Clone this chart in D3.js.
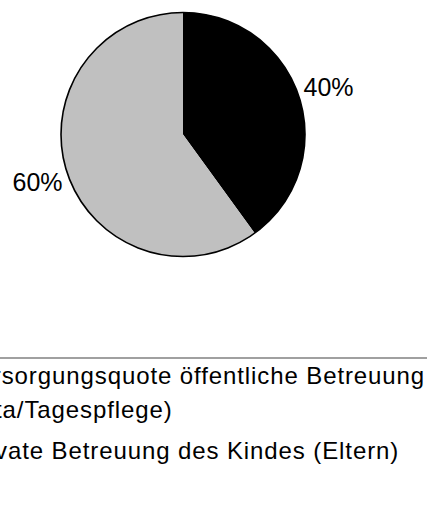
<!DOCTYPE html>
<html>
<head>
<meta charset="utf-8">
<script src="https://cdn.jsdelivr.net/npm/d3@7"></script>
<style>
  html, body { margin: 0; padding: 0; background: #fff; }
  svg { display: block; }
</style>
</head>
<body>
<svg id="pie-chart" width="427" height="505"></svg>
<script>
// data
const categories = ["Versorgung", "Privat"];
const values = [40, 60];
const valueLabels = ["40%", "60%"];
const legendLines = [
    ["Versorgungsquote öffentliche Betreuung", "(Kita/Tagespflege)"],
    ["Private Betreuung des Kindes (Eltern)"]
];

const width = 427, height = 505;
const cx = 183, cy = 134.5, radius = 122;
const fontFamily = "'Liberation Sans', Arial, Helvetica, sans-serif";

var svg = d3.select("#pie-chart");

var color = d3.scaleOrdinal()
    .domain(categories)
    .range(["#000000", "#c0c0c0"]);

var pie = d3.pie()
    .sort(null)
    .value(function(d, i) { return values[i]; });

var arcs = pie(categories);

var arc = d3.arc().innerRadius(0).outerRadius(radius);
var labelArc = d3.arc().innerRadius(153).outerRadius(153);

var g = svg.append("g")
    .attr("transform", "translate(" + cx + "," + cy + ")");

g.selectAll("path.slice")
    .data(arcs)
    .enter().append("path")
    .attr("class", "slice")
    .attr("d", arc)
    .attr("fill", function(d) { return color(d.data); });

//outline of the whole pie
g.append("circle")
    .attr("r", radius)
    .attr("fill", "none")
    .attr("stroke", "#000")
    .attr("stroke-width", 1.6);

g.selectAll("text.pct")
    .data(arcs)
    .enter().append("text")
    .attr("class", "pct")
    .attr("transform", function(d) { return "translate(" + labelArc.centroid(d) + ")"; })
    .attr("text-anchor", "middle")
    .attr("dy", "0.36em")
    .attr("font-family", fontFamily)
    .attr("font-size", 25)
    .attr("fill", "#000")
    .text(function(d, i) { return valueLabels[i]; });

//legend (box runs off the canvas edges, so only part of it shows)
var legend = svg.append("g");

legend.append("line")
    .attr("x1", -200).attr("x2", width + 10)
    .attr("y1", 358).attr("y2", 358)
    .attr("stroke", "#808080")
    .attr("stroke-width", 1.6);

var textX = -37;
var baselines = [[384, 418], [459]];

var items = legend.selectAll("g.item")
    .data(legendLines)
    .enter().append("g")
    .attr("class", "item");

items.selectAll("text")
    .data(function(d, i) { return d.map(function(t, j) { return {text: t, y: baselines[i][j]}; }); })
    .enter().append("text")
    .attr("x", textX)
    .attr("y", function(d) { return d.y; })
    .attr("font-family", fontFamily)
    .attr("font-size", 24)
    .attr("letter-spacing", 0.9)
    .attr("fill", "#000")
    .text(function(d) { return d.text; });
</script>
</body>
</html>
